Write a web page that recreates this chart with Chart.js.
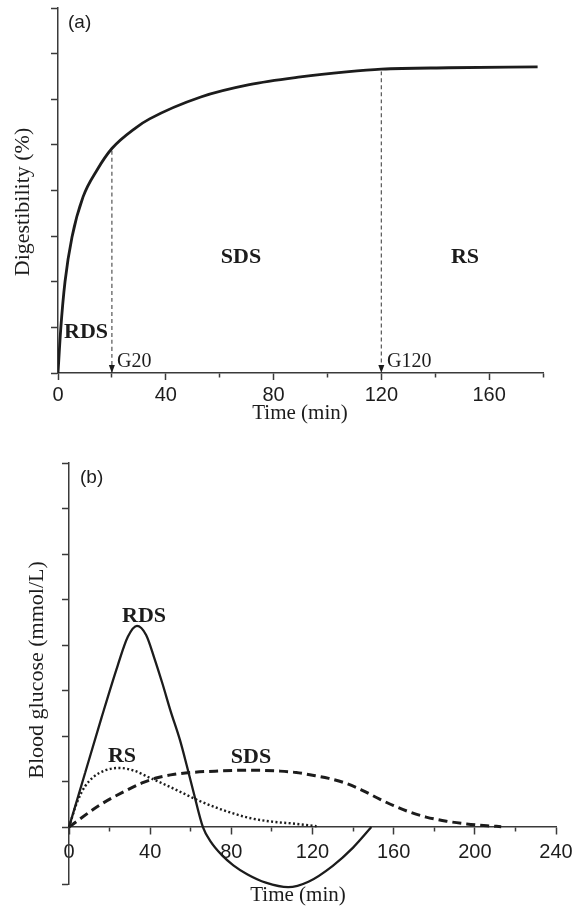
<!DOCTYPE html>
<html>
<head>
<meta charset="utf-8">
<script src="https://cdn.jsdelivr.net/npm/chart.js@4.4.1/dist/chart.umd.min.js"></script>
<style>
  html, body { margin: 0; padding: 0; background: #fff; }
  #wrap { position: relative; width: 573px; height: 909px; }
  canvas { position: absolute; left: 0; }
  #chartA { top: 0; }
  #chartB { top: 440px; }
</style>
</head>
<body>
<div id="wrap">
  <canvas id="chartA" width="573" height="430"></canvas>
  <canvas id="chartB" width="573" height="469"></canvas>
</div>
<script>
// (a) digestibility curve
const digTime  = [0, 1, 2.6, 5.2, 9.3, 14.5, 20, 29, 34, 53, 71, 90, 107, 120, 145, 178];
const digValue = [0, 0.95, 2.0, 2.98, 3.86, 4.45, 4.92, 5.38, 5.57, 6.05, 6.32, 6.49, 6.6, 6.66, 6.69, 6.71];
const cutTimes  = [20, 120];
const cutLabels = ['G20', 'G120'];
const xTicksA = [0, 40, 80, 120, 160];

// (b) blood glucose curves
const rdsTime  = [0, 8, 16, 24, 29, 33.5, 38, 42, 46, 50, 54.7, 58, 61.2, 66, 70, 75, 81, 88, 97, 108, 118, 130, 140, 149];
const rdsValue = [0, 1.2, 2.4, 3.55, 4.18, 4.42, 4.22, 3.72, 3.16, 2.56, 1.91, 1.36, 0.8, 0, -0.33, -0.6, -0.84, -1.04, -1.22, -1.32, -1.2, -0.85, -0.45, 0];
const rsTime   = [0, 4, 8, 12, 18, 25, 32, 40, 48, 56, 64, 73, 81, 89, 100, 110, 122];
const rsValue  = [0, 0.55, 0.9, 1.1, 1.25, 1.30, 1.24, 1.08, 0.92, 0.75, 0.58, 0.42, 0.3, 0.2, 0.12, 0.08, 0.02];
const sdsTime  = [0, 15, 28, 36, 44, 52, 60, 72, 89, 104, 112, 120, 128, 136, 144, 152, 160, 168, 176, 186, 196, 206, 213];
const sdsValue = [0, 0.48, 0.8, 0.97, 1.09, 1.16, 1.2, 1.23, 1.25, 1.23, 1.2, 1.14, 1.07, 0.97, 0.82, 0.64, 0.47, 0.33, 0.22, 0.13, 0.07, 0.03, 0.01];
const xTicksB = [0, 40, 80, 120, 160, 200, 240];

const INK = '#1c1c1c';
const AXIS = '#3a3a3a';
const SERIF = '"Liberation Serif", "DejaVu Serif", serif';
const SANS = '"Liberation Sans", Arial, sans-serif';

const pts = (xs, ys) => xs.map((x, i) => ({ x: x, y: ys[i] }));

// texts, arrows drawn on top of the chart
const annotate = {
  id: 'annotate',
  afterDraw(chart, args, opts) {
    const ctx = chart.ctx;
    ctx.save();
    ctx.fillStyle = INK;
    ctx.textBaseline = 'alphabetic';
    (opts.arrows || []).forEach(t => {
      const px = chart.scales.x.getPixelForValue(t);
      const py = chart.scales.y.getPixelForValue(0);
      ctx.beginPath();
      ctx.moveTo(px, py);
      ctx.lineTo(px - 3, py - 8);
      ctx.lineTo(px + 3, py - 8);
      ctx.closePath();
      ctx.fill();
    });
    (opts.texts || []).forEach(t => {
      ctx.font = t.font;
      ctx.textAlign = t.align || 'center';
      if (t.rotate) {
        ctx.save();
        ctx.translate(t.x, t.y);
        ctx.rotate(-Math.PI / 2);
        ctx.fillText(t.text, 0, 0);
        ctx.restore();
      } else {
        ctx.fillText(t.text, t.x, t.y);
      }
    });
    ctx.restore();
  }
};

function xAxis(max, major, pad, extra) {
  return Object.assign({
    type: 'linear', min: 0, max: max,
    border: { color: AXIS, width: 1.5 },
    grid: {
      drawOnChartArea: false, tickLength: 7, tickColor: AXIS, tickWidth: 1.5,
      tickBorderDash: c => (c.tick && major.indexOf(c.tick.value) < 0) ? [4, 50] : []
    },
    ticks: {
      stepSize: 20, autoSkip: false, maxRotation: 0, padding: pad,
      color: INK, font: { family: SANS, size: 20 },
      callback: v => major.indexOf(v) >= 0 ? String(v) : ''
    }
  }, extra);
}

function yAxis(min, width, extra) {
  return Object.assign({
    type: 'linear', min: min, max: 8,
    border: { color: AXIS, width: 1.5 },
    grid: { drawOnChartArea: false, tickLength: 7, tickColor: AXIS, tickWidth: 1.5 },
    ticks: { stepSize: 1, display: false },
    afterFit: s => { s.width = width; s.paddingTop = 0; s.paddingBottom = 0; }
  }, extra);
}

const common = {
  responsive: false, animation: false, devicePixelRatio: 1,
  parsing: false,
  elements: { point: { radius: 0 }, line: { cubicInterpolationMode: 'monotone' } }
};

const valAt = t => digValue[digTime.indexOf(t)];

new Chart(document.getElementById('chartA'), {
  type: 'line',
  data: {
    datasets: [
      { data: pts(digTime, digValue), borderColor: INK, borderWidth: 2.8, fill: false },
    ].concat(cutTimes.map(t => ({
      data: [{ x: t, y: valAt(t) - 0.05 }, { x: t, y: 0 }],
      borderColor: '#555', borderWidth: 1.2, borderDash: [4, 3], tension: 0
    })))
  },
  options: Object.assign({}, common, {
    layout: { padding: { left: 0, right: 30, top: 8, bottom: 0 } },
    scales: {
      x: xAxis(180, xTicksA, 3, { afterFit: s => { s.height = 57; s.paddingLeft = 0; s.paddingRight = 0; } }),
      y: yAxis(0, 58)
    },
    plugins: {
      legend: { display: false }, tooltip: { enabled: false },
      annotate: {
        arrows: cutTimes,
        texts: [
          { text: '(a)', x: 68, y: 28, align: 'left', font: '19px ' + SANS },
          { text: 'RDS', x: 86, y: 338, font: 'bold 22px ' + SERIF },
          { text: 'SDS', x: 241, y: 263, font: 'bold 22px ' + SERIF },
          { text: 'RS', x: 465, y: 263, font: 'bold 22px ' + SERIF },
          { text: cutLabels[0], x: 117, y: 367, align: 'left', font: '20px ' + SERIF },
          { text: cutLabels[1], x: 387, y: 367, align: 'left', font: '20px ' + SERIF },
          { text: 'Time (min)', x: 300, y: 419, font: '21px ' + SERIF },
          { text: 'Digestibility (%)', x: 29, y: 202, rotate: true, font: '22px ' + SERIF }
        ]
      }
    }
  }),
  plugins: [annotate]
});

new Chart(document.getElementById('chartB'), {
  type: 'line',
  data: {
    datasets: [
      { data: pts(rdsTime, rdsValue), borderColor: INK, borderWidth: 2.3, clip: false },
      { data: pts(rsTime, rsValue), borderColor: INK, borderWidth: 2.4, borderDash: [2, 2.4], clip: false },
      { data: pts(sdsTime, sdsValue), borderColor: INK, borderWidth: 3, borderDash: [9, 5], clip: false }
    ]
  },
  options: Object.assign({}, common, {
    layout: { padding: { left: 0, right: 17, top: 23, bottom: 25 } },
    scales: {
      x: xAxis(240, xTicksB, 6, {
        position: { y: 0 },
        afterFit: s => { s.paddingLeft = 0; s.paddingRight = 0; }
      }),
      y: yAxis(-1.25, 69, {
        afterBuildTicks: s => { s.ticks = s.ticks.filter(t => t.value !== -1); }
      })
    },
    plugins: {
      legend: { display: false }, tooltip: { enabled: false },
      annotate: {
        texts: [
          { text: '(b)', x: 80, y: 43, align: 'left', font: '19px ' + SANS },
          { text: 'RDS', x: 144, y: 182, font: 'bold 22px ' + SERIF },
          { text: 'RS', x: 122, y: 322, font: 'bold 22px ' + SERIF },
          { text: 'SDS', x: 251, y: 323, font: 'bold 22px ' + SERIF },
          { text: 'Time (min)', x: 298, y: 461, font: '21px ' + SERIF },
          { text: 'Blood glucose (mmol/L)', x: 43, y: 230, rotate: true, font: '22px ' + SERIF }
        ]
      }
    }
  }),
  plugins: [annotate]
});
</script>
</body>
</html>
